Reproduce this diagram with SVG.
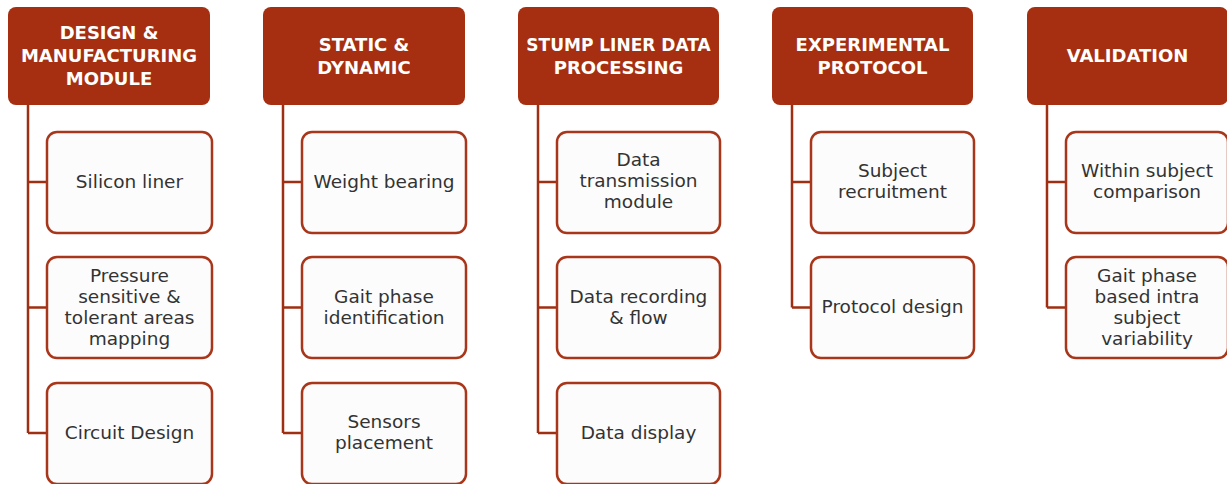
<svg xmlns="http://www.w3.org/2000/svg" width="1227" height="484" viewBox="0 0 1227 484">
<style>
.hdr{fill:#A52F10;}
.box{fill:#FCFCFC;stroke:#A8361A;stroke-width:2.5;}
.ht{fill:#FFFFFF;font-family:"DejaVu Sans",sans-serif;font-weight:bold;font-size:18px;text-anchor:middle;}
.ct{fill:#333333;font-family:"DejaVu Sans",sans-serif;font-size:18.5px;text-anchor:middle;}
.con{fill:none;stroke:#9E2F12;stroke-width:2.5;}
</style>
<rect width="1227" height="484" fill="#FFFFFF"/>
<g id="connectors">
<path class="con" d="M28,105 V433 M28,182 H47 M28,307.5 H47 M28,433 H47"/>
<path class="con" d="M283,105 V433 M283,182 H302 M283,307.5 H302 M283,433 H302"/>
<path class="con" d="M538,105 V433 M538,182 H557 M538,307.5 H557 M538,433 H557"/>
<path class="con" d="M792,105 V307.5 M792,182 H811 M792,307.5 H811"/>
<path class="con" d="M1047,105 V307.5 M1047,182 H1066 M1047,307.5 H1066"/>
</g>
<g id="h1"><rect class="hdr" x="8" y="7" width="202" height="98" rx="8"/>
<text class="ht"><tspan x="109" y="39">DESIGN &amp;</tspan><tspan x="109" y="62">MANUFACTURING</tspan><tspan x="109" y="85">MODULE</tspan></text></g>
<g id="h2"><rect class="hdr" x="263" y="7" width="202" height="98" rx="8"/>
<text class="ht"><tspan x="364" y="51">STATIC &amp;</tspan><tspan x="364" y="74">DYNAMIC</tspan></text></g>
<g id="h3"><rect class="hdr" x="518" y="7" width="201" height="98" rx="8"/>
<text class="ht"><tspan x="618.5" y="51" font-size="17">STUMP LINER DATA</tspan><tspan x="618.5" y="74">PROCESSING</tspan></text></g>
<g id="h4"><rect class="hdr" x="772" y="7" width="201" height="98" rx="8"/>
<text class="ht"><tspan x="872.5" y="51">EXPERIMENTAL</tspan><tspan x="872.5" y="74">PROTOCOL</tspan></text></g>
<g id="h5"><rect class="hdr" x="1027" y="7" width="201" height="98" rx="8"/>
<text class="ht" x="1127.5" y="62">VALIDATION</text></g>

<g id="c1a"><rect class="box" x="47" y="132" width="165" height="101" rx="10"/>
<text class="ct" x="129.5" y="188">Silicon liner</text></g>
<g id="c1b"><rect class="box" x="47" y="257" width="165" height="101" rx="10"/>
<text class="ct"><tspan x="129.5" y="282">Pressure</tspan><tspan x="129.5" y="303">sensitive &amp;</tspan><tspan x="129.5" y="324">tolerant areas</tspan><tspan x="129.5" y="345">mapping</tspan></text></g>
<g id="c1c"><rect class="box" x="47" y="383" width="165" height="101" rx="10"/>
<text class="ct" x="129.5" y="439">Circuit Design</text></g>

<g id="c2a"><rect class="box" x="302" y="132" width="164" height="101" rx="10"/>
<text class="ct" x="384" y="188">Weight bearing</text></g>
<g id="c2b"><rect class="box" x="302" y="257" width="164" height="101" rx="10"/>
<text class="ct"><tspan x="384" y="303">Gait phase</tspan><tspan x="384" y="324">identification</tspan></text></g>
<g id="c2c"><rect class="box" x="302" y="383" width="164" height="101" rx="10"/>
<text class="ct"><tspan x="384" y="428">Sensors</tspan><tspan x="384" y="449">placement</tspan></text></g>

<g id="c3a"><rect class="box" x="557" y="132" width="163" height="101" rx="10"/>
<text class="ct"><tspan x="638.5" y="166">Data</tspan><tspan x="638.5" y="187">transmission</tspan><tspan x="638.5" y="208">module</tspan></text></g>
<g id="c3b"><rect class="box" x="557" y="257" width="163" height="101" rx="10"/>
<text class="ct"><tspan x="638.5" y="303">Data recording</tspan><tspan x="638.5" y="324">&amp; flow</tspan></text></g>
<g id="c3c"><rect class="box" x="557" y="383" width="163" height="101" rx="10"/>
<text class="ct" x="638.5" y="439">Data display</text></g>

<g id="c4a"><rect class="box" x="811" y="132" width="163" height="101" rx="10"/>
<text class="ct"><tspan x="892.5" y="177">Subject</tspan><tspan x="892.5" y="198">recruitment</tspan></text></g>
<g id="c4b"><rect class="box" x="811" y="257" width="163" height="101" rx="10"/>
<text class="ct" x="892.5" y="313">Protocol design</text></g>

<g id="c5a"><rect class="box" x="1066" y="132" width="162" height="101" rx="10"/>
<text class="ct"><tspan x="1147" y="177">Within subject</tspan><tspan x="1147" y="198">comparison</tspan></text></g>
<g id="c5b"><rect class="box" x="1066" y="257" width="162" height="101" rx="10"/>
<text class="ct"><tspan x="1147" y="282">Gait phase</tspan><tspan x="1147" y="303">based intra</tspan><tspan x="1147" y="324">subject</tspan><tspan x="1147" y="345">variability</tspan></text></g>
</svg>
